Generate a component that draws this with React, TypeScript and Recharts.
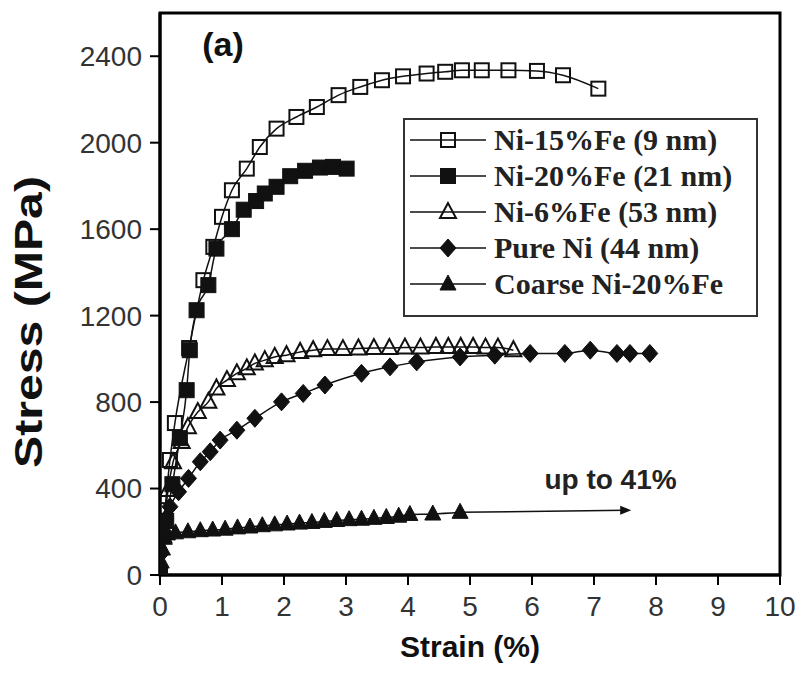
import React from 'react';
import { LineChart, Line, XAxis, YAxis, ReferenceArea, ReferenceLine, ReferenceDot, Legend, Label } from 'recharts';

// axes
const STRAIN_TICKS = [0, 1, 2, 3, 4, 5, 6, 7, 8, 9, 10];
const STRESS_TICKS = [0, 400, 800, 1200, 1600, 2000, 2400];

// series (strain %, stress MPa)
const ni15Fe = [
  { x: 0, y: 0 }, { x: 0.08, y: 300 }, { x: 0.16, y: 532 }, { x: 0.24, y: 703 }, { x: 0.47, y: 1050 },
  { x: 0.7, y: 1364 }, { x: 0.86, y: 1518 }, { x: 1.0, y: 1657 }, { x: 1.16, y: 1780 }, { x: 1.4, y: 1880 },
  { x: 1.61, y: 1980 }, { x: 1.88, y: 2065 }, { x: 2.2, y: 2119 }, { x: 2.53, y: 2165 }, { x: 2.88, y: 2220 },
  { x: 3.23, y: 2258 }, { x: 3.58, y: 2289 }, { x: 3.92, y: 2307 }, { x: 4.3, y: 2320 }, { x: 4.6, y: 2328 },
  { x: 4.87, y: 2335 }, { x: 5.19, y: 2335 }, { x: 5.62, y: 2335 }, { x: 6.08, y: 2332 }, { x: 6.5, y: 2312 },
  { x: 7.07, y: 2250 },
];

const ni20Fe = [
  { x: 0, y: 0 }, { x: 0.1, y: 250 }, { x: 0.2, y: 420 }, { x: 0.32, y: 633 }, { x: 0.43, y: 855 },
  { x: 0.48, y: 1040 }, { x: 0.59, y: 1225 }, { x: 0.78, y: 1341 }, { x: 0.91, y: 1510 }, { x: 1.16, y: 1600 },
  { x: 1.35, y: 1690 }, { x: 1.55, y: 1730 }, { x: 1.69, y: 1765 }, { x: 1.88, y: 1796 }, { x: 2.1, y: 1845 },
  { x: 2.34, y: 1870 }, { x: 2.58, y: 1885 }, { x: 2.79, y: 1888 }, { x: 3.01, y: 1880 },
];

const ni6Fe = [
  { x: 0, y: 0 }, { x: 0.05, y: 180 }, { x: 0.13, y: 393 }, { x: 0.21, y: 522 }, { x: 0.35, y: 615 },
  { x: 0.45, y: 684 }, { x: 0.61, y: 754 }, { x: 0.78, y: 801 }, { x: 0.91, y: 863 }, { x: 1.08, y: 902 },
  { x: 1.24, y: 933 }, { x: 1.4, y: 956 }, { x: 1.53, y: 979 }, { x: 1.69, y: 994 }, { x: 1.85, y: 1009 },
  { x: 2.04, y: 1017 }, { x: 2.26, y: 1032 }, { x: 2.47, y: 1040 }, { x: 2.7, y: 1045 }, { x: 2.95, y: 1045 },
  { x: 3.2, y: 1048 }, { x: 3.45, y: 1050 }, { x: 3.7, y: 1050 }, { x: 3.95, y: 1052 }, { x: 4.2, y: 1052 },
  { x: 4.45, y: 1055 }, { x: 4.65, y: 1055 }, { x: 4.85, y: 1055 }, { x: 5.05, y: 1055 }, { x: 5.25, y: 1052 },
  { x: 5.45, y: 1052 }, { x: 5.7, y: 1040 },
];

const pureNi = [
  { x: 0, y: 0 }, { x: 0.02, y: 100 }, { x: 0.05, y: 190 }, { x: 0.09, y: 260 }, { x: 0.16, y: 316 },
  { x: 0.3, y: 385 }, { x: 0.46, y: 447 }, { x: 0.65, y: 524 }, { x: 0.81, y: 570 }, { x: 0.97, y: 624 },
  { x: 1.24, y: 670 }, { x: 1.53, y: 725 }, { x: 1.96, y: 801 }, { x: 2.31, y: 840 }, { x: 2.66, y: 879 },
  { x: 3.25, y: 933 }, { x: 3.71, y: 963 }, { x: 4.14, y: 986 }, { x: 4.84, y: 1009 }, { x: 5.4, y: 1017 },
  { x: 5.97, y: 1025 }, { x: 6.53, y: 1025 }, { x: 6.94, y: 1040 }, { x: 7.37, y: 1025 }, { x: 7.58, y: 1025 },
  { x: 7.9, y: 1025 },
];

const coarseNi20Fe = [
  { x: 0, y: 0 }, { x: 0.02, y: 60 }, { x: 0.04, y: 120 }, { x: 0.07, y: 170 }, { x: 0.12, y: 190 },
  { x: 0.25, y: 195 }, { x: 0.45, y: 200 }, { x: 0.65, y: 205 }, { x: 0.85, y: 208 }, { x: 1.05, y: 212 },
  { x: 1.25, y: 218 }, { x: 1.45, y: 222 }, { x: 1.65, y: 228 }, { x: 1.85, y: 232 }, { x: 2.05, y: 236 },
  { x: 2.25, y: 240 }, { x: 2.45, y: 243 }, { x: 2.65, y: 248 }, { x: 2.85, y: 252 }, { x: 3.05, y: 256 },
  { x: 3.25, y: 258 }, { x: 3.45, y: 262 }, { x: 3.65, y: 266 }, { x: 3.85, y: 272 }, { x: 4.03, y: 280 },
  { x: 4.4, y: 282 }, { x: 4.84, y: 290 },
];

// coarse sample keeps going off the plot
const ARROW_END = { x: 7.6, y: 300 };

const INK = '#111';

const Marker = ({ kind, cx, cy }: { kind: string; cx: number; cy: number }) => {
  if (cx == null || cy == null) return null;
  switch (kind) {
    case 'openSquare':
      return <rect x={cx - 7} y={cy - 7} width={14} height={14} fill="none" stroke={INK} strokeWidth={2} />;
    case 'filledSquare':
      return <rect x={cx - 7.5} y={cy - 7.5} width={15} height={15} fill={INK} stroke={INK} strokeWidth={1} />;
    case 'openTriangle':
      return <polygon points={`${cx},${cy - 9} ${cx - 8},${cy + 6} ${cx + 8},${cy + 6}`} fill="none" stroke={INK} strokeWidth={2} />;
    case 'filledTriangle':
      return <polygon points={`${cx},${cy - 9} ${cx - 8},${cy + 6} ${cx + 8},${cy + 6}`} fill={INK} stroke={INK} strokeWidth={1} />;
    case 'diamond':
      return <polygon points={`${cx},${cy - 9} ${cx + 8},${cy} ${cx},${cy + 9} ${cx - 8},${cy}`} fill={INK} stroke={INK} strokeWidth={1} />;
    default:
      return null;
  }
};

const SERIES = [
  { key: 'ni15', name: 'Ni-15%Fe (9 nm)', data: ni15Fe, marker: 'openSquare' },
  { key: 'ni6', name: 'Ni-6%Fe (53 nm)', data: ni6Fe, marker: 'openTriangle' },
  { key: 'ni20', name: 'Ni-20%Fe (21 nm)', data: ni20Fe, marker: 'filledSquare' },
  { key: 'pure', name: 'Pure Ni (44 nm)', data: pureNi, marker: 'diamond' },
  { key: 'coarse', name: 'Coarse Ni-20%Fe', data: coarseNi20Fe, marker: 'filledTriangle' },
];
const LEGEND_ORDER = ['ni15', 'ni20', 'ni6', 'pure', 'coarse'];

const LegendBox = () => (
  <div
    style={{
      boxSizing: 'border-box', width: 355, height: 199, border: '2px solid #333',
      background: '#fff', padding: '2px 0 0 5px', textAlign: 'left',
    }}
  >
    {LEGEND_ORDER.map((k) => {
      const s = SERIES.find((d) => d.key === k)!;
      return (
        <div key={k} style={{ display: 'flex', alignItems: 'center', height: 36 }}>
          <svg width={78} height={36} style={{ flex: 'none' }}>
            <line x1={0} y1={18} x2={76} y2={18} stroke={INK} strokeWidth={1.5} />
            <Marker kind={s.marker} cx={38} cy={18} />
          </svg>
          <span style={{ marginLeft: 6, font: 'bold 30px "Liberation Serif", serif', color: '#222', whiteSpace: 'nowrap' }}>
            {s.name}
          </span>
        </div>
      );
    })}
  </div>
);

const Arrow = (props: any) => {
  const { x1, y1, x2, y2 } = props;
  if (x1 == null) return null;
  return (
    <g>
      <line x1={x1} y1={y1} x2={x2 - 6} y2={y2} stroke={INK} strokeWidth={1.5} />
      <polygon points={`${x2},${y2} ${x2 - 11},${y2 - 4.5} ${x2 - 11},${y2 + 4.5}`} fill={INK} />
    </g>
  );
};

const tickFont = { fontFamily: 'Liberation Sans, Arial, sans-serif', fontSize: 28, fill: '#333' };

export default function App() {
  return (
    <div style={{ position: 'absolute', left: 0, top: 0, background: '#fff' }}>
      <LineChart width={801} height={675} margin={{ top: 13, right: 21, bottom: 0, left: 0 }}>
        <XAxis
          type="number"
          dataKey="x"
          domain={[0, 10]}
          ticks={STRAIN_TICKS}
          allowDataOverflow
          height={100}
          tickSize={10}
          tickMargin={11}
          axisLine={{ stroke: '#000', strokeWidth: 3 }}
          tickLine={{ stroke: '#000', strokeWidth: 2 }}
          tick={tickFont}
          interval={0}
        >
          <Label
            value="Strain (%)"
            position="insideBottom"
            offset={18}
            style={{ fontFamily: 'Liberation Sans, Arial, sans-serif', fontSize: 30, fontWeight: 'bold', fill: INK }}
          />
        </XAxis>
        <YAxis
          type="number"
          dataKey="y"
          domain={[0, 2600]}
          ticks={STRESS_TICKS}
          allowDataOverflow
          width={160}
          tickSize={10}
          tickMargin={8}
          axisLine={{ stroke: '#000', strokeWidth: 3 }}
          tickLine={{ stroke: '#000', strokeWidth: 2 }}
          tick={tickFont}
          interval={0}
        >
          <Label
            content={(p: any) => {
              const vb = p.viewBox || { x: 0, y: 13, height: 562 };
              const cx = vb.x + 29;
              const cy = vb.y + vb.height / 2 + 28;
              return (
                <text
                  x={cx}
                  y={cy}
                  transform={`rotate(-90 ${cx} ${cy})`}
                  textAnchor="middle"
                  dominantBaseline="central"
                  textLength={292}
                  lengthAdjust="spacingAndGlyphs"
                  style={{ fontFamily: 'Liberation Sans, Arial, sans-serif', fontSize: 38, fontWeight: 'bold', fill: INK }}
                >
                  Stress (MPa)
                </text>
              );
            }}
          />
        </YAxis>
        <ReferenceArea x1={0} x2={10} y1={0} y2={2600} fill="none" stroke="#000" strokeWidth={3} />
        {SERIES.map((s) => (
          <Line
            key={s.key}
            data={s.data}
            dataKey="y"
            name={s.name}
            type="monotone"
            stroke={INK}
            strokeWidth={1.5}
            isAnimationActive={false}
            dot={(p: any) => <Marker key={`${s.key}-${p.index}`} kind={s.marker} cx={p.cx} cy={p.cy} />}
            activeDot={false}
          />
        ))}
        <ReferenceLine
          segment={[coarseNi20Fe[coarseNi20Fe.length - 1], ARROW_END]}
          shape={Arrow}
        />
        <ReferenceDot
          x={6.2}
          y={440}
          r={0}
          shape={(p: any) => (
            <text x={p.cx} y={p.cy} dominantBaseline="central" style={{ fontFamily: 'Liberation Sans, Arial, sans-serif', fontSize: 28, fontWeight: 'bold', fill: '#222' }}>
              up to 41%
            </text>
          )}
        />
        <ReferenceDot
          x={0.68}
          y={2455}
          r={0}
          shape={(p: any) => (
            <text x={p.cx} y={p.cy} dominantBaseline="central" style={{ fontFamily: 'Liberation Sans, Arial, sans-serif', fontSize: 34, fontWeight: 'bold', fill: INK }}>
              (a)
            </text>
          )}
        />
        <Legend
          content={<LegendBox />}
          layout="horizontal"
          verticalAlign="middle"
          align="center"
          wrapperStyle={{ position: 'absolute', left: 403, top: 118, width: 355, height: 199 }}
        />
      </LineChart>
    </div>
  );
}
